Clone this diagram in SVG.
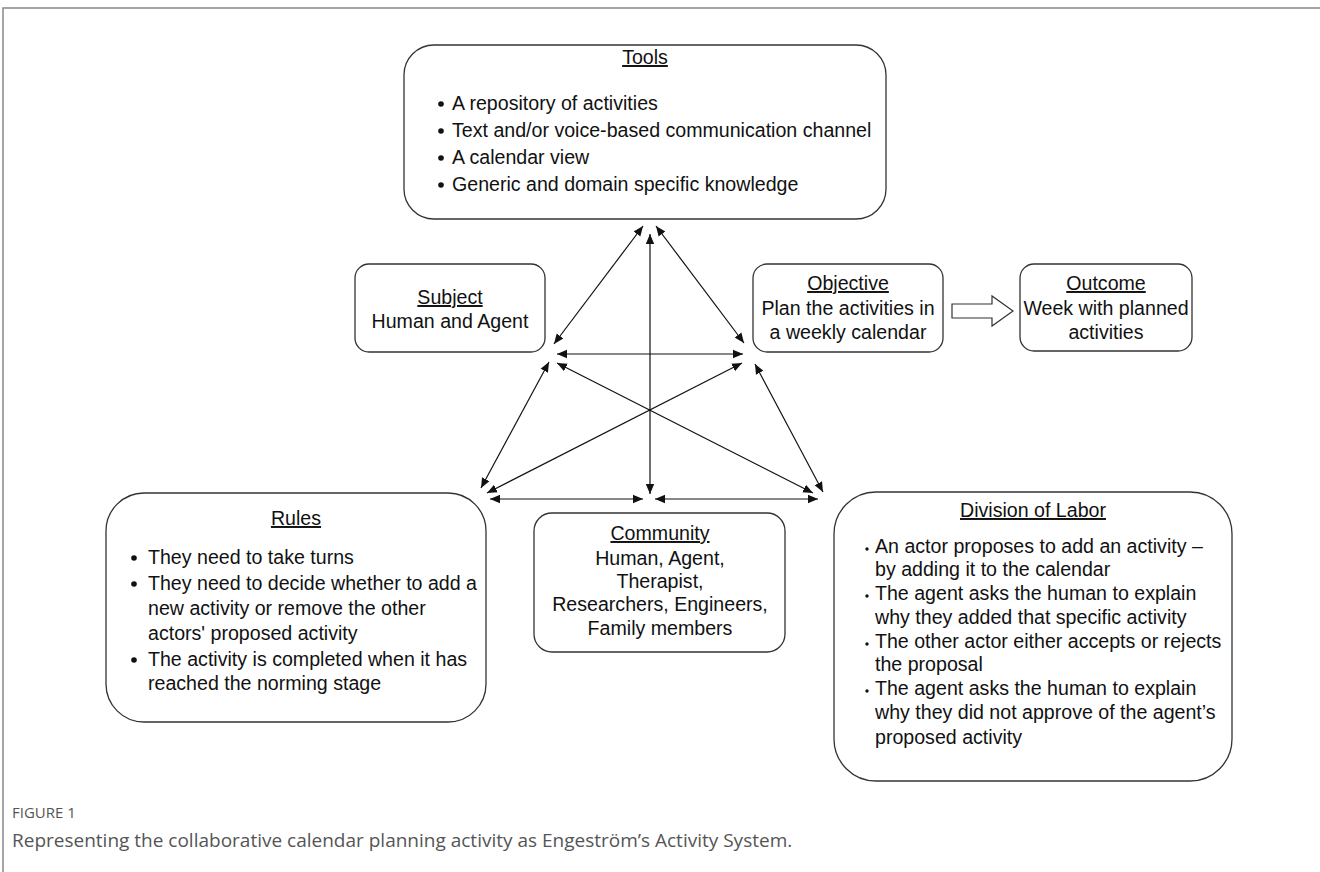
<svg xmlns="http://www.w3.org/2000/svg" width="1320" height="872" viewBox="0 0 1320 872">
<defs>
<style>
.box{fill:#fff;stroke:#333;stroke-width:1.3}
.t{font-family:"Liberation Sans",Arial,sans-serif;font-size:19.6px;fill:#111}
.c{text-anchor:middle}
.u{text-decoration:underline}
.ln{stroke:#111;stroke-width:1.2;fill:none;marker-start:url(#ah);marker-end:url(#ah)}
.cap{font-family:"Open Sans","Liberation Sans",sans-serif;fill:#555}
</style>
<marker id="ah" viewBox="0 0 10 10" refX="10" refY="5" markerWidth="10" markerHeight="10" markerUnits="userSpaceOnUse" orient="auto-start-reverse">
<path d="M0,0.8 L10,5 L0,9.2 z" fill="#111"/>
</marker>
</defs>
<rect width="1320" height="872" fill="#fff"/>
<path d="M3,872 V8 H1320" fill="none" stroke="#888" stroke-width="1.5"/>

<g id="tools">
<rect class="box" x="404" y="45" width="482" height="174" rx="30"/>
<text class="t c u" x="645" y="64">Tools</text>
<g class="t">
<circle cx="441" cy="104" r="2.8"/><text x="452" y="110">A repository of activities</text>
<circle cx="441" cy="131" r="2.8"/><text x="452" y="137">Text and/or voice-based communication channel</text>
<circle cx="441" cy="158" r="2.8"/><text x="452" y="164">A calendar view</text>
<circle cx="441" cy="185" r="2.8"/><text x="452" y="191">Generic and domain specific knowledge</text>
</g>
</g>

<g id="subject">
<rect class="box" x="355" y="264" width="190" height="88" rx="14"/>
<text class="t c u" x="450" y="304">Subject</text>
<text class="t c" x="450" y="328">Human and Agent</text>
</g>

<g id="objective">
<rect class="box" x="753" y="264" width="190" height="88" rx="14"/>
<text class="t c u" x="848" y="290">Objective</text>
<text class="t c" x="848" y="315">Plan the activities in</text>
<text class="t c" x="848" y="339">a weekly calendar</text>
</g>

<g id="outcome">
<rect class="box" x="1020" y="264" width="172" height="87" rx="14"/>
<text class="t c u" x="1106" y="290">Outcome</text>
<text class="t c" x="1106" y="315">Week with planned</text>
<text class="t c" x="1106" y="339">activities</text>
</g>

<g id="rules">
<rect class="box" x="106" y="493" width="380" height="229" rx="38"/>
<text class="t c u" x="296" y="525">Rules</text>
<g class="t">
<circle cx="134" cy="558" r="2.8"/><text x="148" y="564">They need to take turns</text>
<circle cx="134" cy="584" r="2.8"/><text x="148" y="590">They need to decide whether to add a</text>
<text x="148" y="615">new activity or remove the other</text>
<text x="148" y="640">actors' proposed activity</text>
<circle cx="134" cy="660" r="2.8"/><text x="148" y="666">The activity is completed when it has</text>
<text x="148" y="690">reached the norming stage</text>
</g>
</g>

<g id="community">
<rect class="box" x="534" y="513" width="251" height="139" rx="18"/>
<text class="t c u" x="660" y="540">Community</text>
<text class="t c" x="660" y="565">Human, Agent,</text>
<text class="t c" x="660" y="588">Therapist,</text>
<text class="t c" x="660" y="611">Researchers, Engineers,</text>
<text class="t c" x="660" y="635">Family members</text>
</g>

<g id="division">
<rect class="box" x="834" y="492" width="398" height="289" rx="42"/>
<text class="t c u" x="1033" y="517">Division of Labor</text>
<g class="t">
<circle cx="867" cy="549" r="1.7"/><text x="875" y="553">An actor proposes to add an activity –</text>
<text x="875" y="576">by adding it to the calendar</text>
<circle cx="867" cy="596" r="1.7"/><text x="875" y="600">The agent asks the human to explain</text>
<text x="875" y="624">why they added that specific activity</text>
<circle cx="867" cy="644" r="1.7"/><text x="875" y="648">The other actor either accepts or rejects</text>
<text x="875" y="671">the proposal</text>
<circle cx="867" cy="691" r="1.7"/><text x="875" y="695">The agent asks the human to explain</text>
<text x="875" y="719">why they did not approve of the agent’s</text>
<text x="875" y="744">proposed activity</text>
</g>
</g>

<g id="connectors">
<line class="ln" x1="643" y1="226" x2="554" y2="344"/>
<line class="ln" x1="656" y1="226" x2="744" y2="343"/>
<line class="ln" x1="650" y1="234" x2="650" y2="494"/>
<line class="ln" x1="557" y1="354" x2="743" y2="354"/>
<line class="ln" x1="549" y1="362" x2="481" y2="488"/>
<line class="ln" x1="742" y1="363" x2="487" y2="493"/>
<line class="ln" x1="557" y1="363" x2="813" y2="493"/>
<line class="ln" x1="755" y1="364" x2="823" y2="492"/>
<line class="ln" x1="490" y1="499" x2="643" y2="499"/>
<line class="ln" x1="655" y1="499" x2="818" y2="499"/>
<polygon points="952,304 992,304 992,296 1013,311 992,326 992,318 952,318" fill="#fff" stroke="#333" stroke-width="1.2"/>
</g>

<text class="cap" x="12" y="818" font-size="15">FIGURE 1</text>
<text class="cap" x="12" y="847" font-size="19">Representing the collaborative calendar planning activity as Engeström’s Activity System.</text>
</svg>
